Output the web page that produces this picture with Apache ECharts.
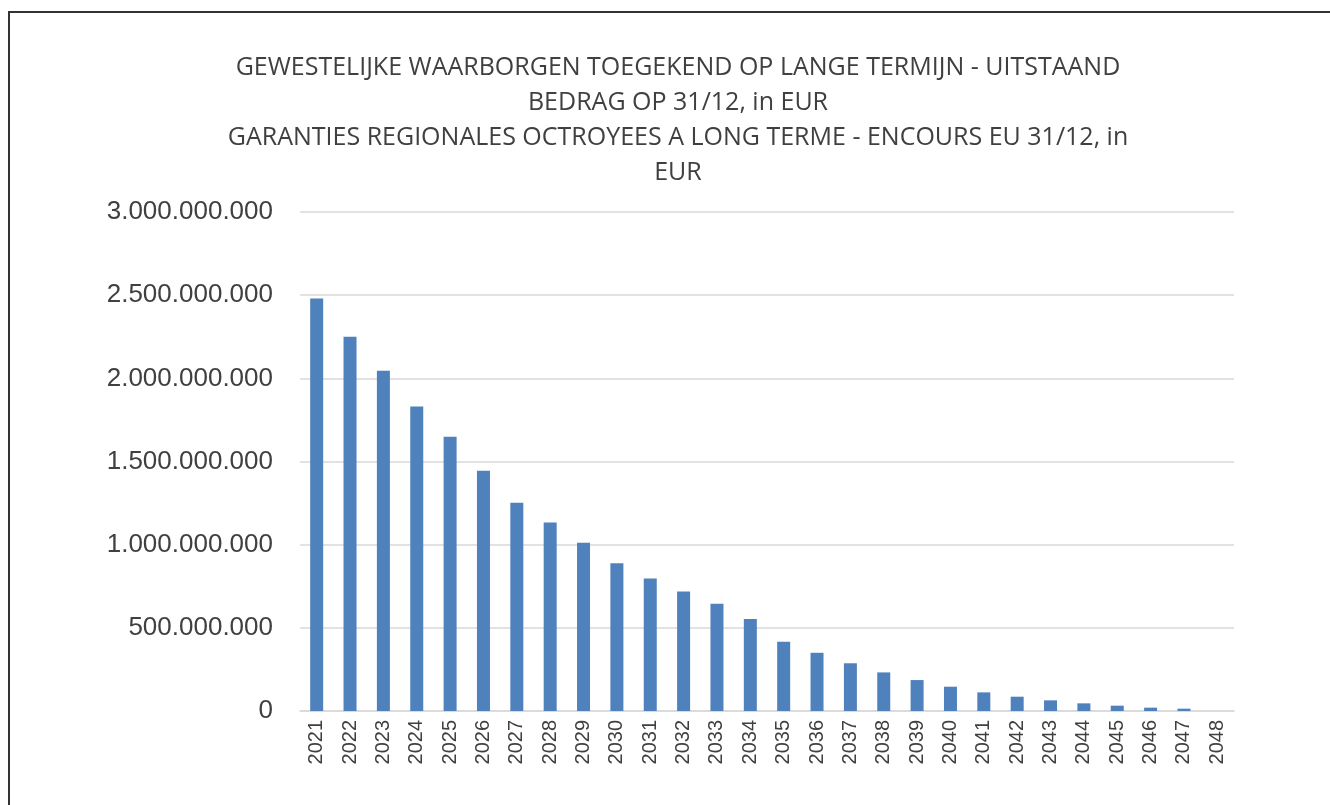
<!DOCTYPE html>
<html>
<head>
<meta charset="utf-8">
<script src="https://cdn.jsdelivr.net/npm/echarts@6/dist/echarts.min.js"></script>
<style>
  html, body { margin: 0; padding: 0; background: #fff; }
  #frame { position: absolute; left: 8px; top: 11px; width: 1330px; height: 805px;
           border-left: 2px solid #333; border-top: 2px solid #333; }
  #main { position: absolute; left: 0; top: 0; width: 1330px; height: 805px; }
</style>
</head>
<body>
<div id="frame"></div>
<div id="main"></div>
<script>
// jaren
var aYears = ['2021', '2022', '2023', '2024', '2025', '2026', '2027', '2028', '2029', '2030',
    '2031', '2032', '2033', '2034', '2035', '2036', '2037', '2038', '2039', '2040',
    '2041', '2042', '2043', '2044', '2045', '2046', '2047', '2048'];
// uitstaand bedrag op 31/12 (EUR)
var aAmounts = [2480000000, 2250000000, 2045000000, 1830000000, 1649000000, 1444000000,
    1252000000, 1134000000, 1011000000, 888000000, 797000000, 719000000, 645000000,
    553000000, 416000000, 350000000, 287000000, 232000000, 186000000, 146000000,
    112000000, 86000000, 64000000, 46000000, 32000000, 20000000, 14000000, 0];
// titel
var sTitle = 'GEWESTELIJKE WAARBORGEN TOEGEKEND OP LANGE TERMIJN - UITSTAAND\n' +
    'BEDRAG OP 31/12, in EUR\n' +
    'GARANTIES REGIONALES OCTROYEES A LONG TERME - ENCOURS EU 31/12, in\n' +
    'EUR';

var oChart = echarts.init(document.getElementById('main'));

// 1.000.000 formaat
function fmt(v) {
    return String(v).replace(/\B(?=(\d{3})+(?!\d))/g, '.');
}

var chartopt = {
    animation: false,
    title: {
        text: sTitle,
        left: 673,
        textAlign: 'center',
        top: 45,
        textStyle: {
            fontFamily: 'Liberation Sans Narrow, Open Sans, sans-serif',
            fontWeight: 'normal',
            fontSize: 25,
            lineHeight: 35,
            color: '#404040'
        }
    },
    grid: {
        left: 300,
        right: 96,
        top: 212,
        bottom: 94
    },
    xAxis: {
        type: 'category',
        data: aYears,
        axisLine: { lineStyle: { color: '#d9d9d9', width: 1.5 } },
        axisTick: { show: false },
        axisLabel: {
            rotate: 90,
            margin: 9,
            interval: 0,
            fontFamily: 'Liberation Sans, sans-serif',
            fontSize: 20,
            color: '#404040'
        }
    },
    yAxis: {
        type: 'value',
        min: 0,
        max: 3000000000,
        interval: 500000000,
        axisLine: { show: false },
        axisTick: { show: false },
        splitLine: { lineStyle: { color: '#d9d9d9', width: 1.5 } },
        axisLabel: {
            margin: 27,
            fontFamily: 'Liberation Sans, sans-serif',
            fontSize: 26,
            color: '#404040',
            formatter: fmt
        }
    },
    series: [{
        type: 'bar',
        data: aAmounts,
        barWidth: 13,
        itemStyle: { color: '#4f81bd' }
    }]
};
oChart.setOption(chartopt);
</script>
</body>
</html>
